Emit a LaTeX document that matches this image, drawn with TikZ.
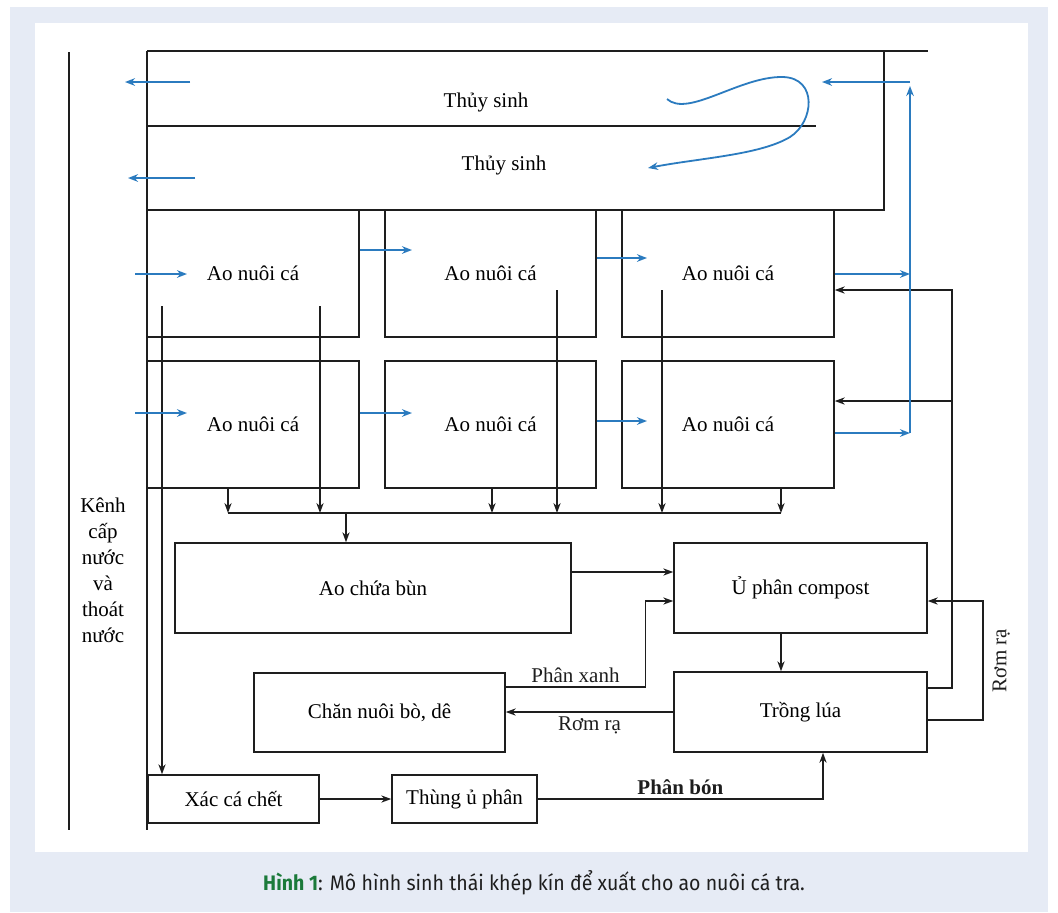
\documentclass[tikz,border=0pt]{standalone}
\usepackage{fontspec}
\setmainfont{Liberation Serif}
\newfontfamily\capfont[FakeStretch=0.93]{Fira Sans}
\usetikzlibrary{arrows.meta}
\definecolor{Dark}{HTML}{1E1E1E}
\definecolor{Flow}{HTML}{2B7BBF}
\definecolor{Back}{HTML}{E6EBF5}
\definecolor{CapGreen}{HTML}{1B7A3A}
\tikzset{
    boxnode/.style={rectangle, draw=Dark, line width=0.75pt, align=center, font=\fontsize{10.5}{13}\selectfont},
    pondnode/.style={boxnode, minimum width=106pt, minimum height=63.5pt},
    arrow/.style={-{Stealth[length=5pt,width=3.6pt]}, line width=0.65pt, color=Dark},
    flowarrow/.style={-{Stealth[length=5pt,width=3.8pt]}, line width=0.9pt, color=Flow},
    labeltext/.style={font=\fontsize{10.5}{13}\selectfont, inner sep=2pt},
}
\begin{document}
\begin{tikzpicture}[x=0.5pt, y=-0.5pt]
    % Nen
    \fill[white] (0,0) rectangle (1058,912);
    \fill[Back] (10,7) rectangle (1048,912);
    \fill[white] (35,23) rectangle (1028,852);
    \useasboundingbox (0,0) rectangle (1058,912);

    % Kenh cap nuoc va thoat nuoc
    \draw[line width=0.9pt, Dark] (69,52) -- (69,830);
    \draw[line width=0.9pt, Dark] (147,51) -- (147,830);
    \node[labeltext, align=center] (kenh) at (103,570) {Kênh\\cấp\\nước\\và\\thoát\\nước};

    % Thuy sinh
    \draw[line width=1pt, Dark] (147,51) -- (928,51);
    \draw[line width=1pt, Dark] (884,51) -- (884,210) -- (147,210);
    \draw[line width=1pt, Dark] (147,126) -- (816,126);
    \node[labeltext] (ts1) at (486,102) {Thủy sinh};
    \node[labeltext] (ts2) at (504,165) {Thủy sinh};

    % Ao nuoi ca
    \node[pondnode] (ao11) at (253,273.5) {Ao nuôi cá};
    \node[pondnode, minimum width=105.5pt] (ao12) at (490.5,273.5) {Ao nuôi cá};
    \node[pondnode] (ao13) at (728,273.5) {Ao nuôi cá};
    \node[pondnode] (ao21) at (253,424.5) {Ao nuôi cá};
    \node[pondnode, minimum width=105.5pt] (ao22) at (490.5,424.5) {Ao nuôi cá};
    \node[pondnode] (ao23) at (728,424.5) {Ao nuôi cá};

    % Cac khoi duoi
    \node[boxnode, minimum width=198pt, minimum height=45pt] (bun) at (373,588) {Ao chứa bùn};
    \node[boxnode, minimum width=126.5pt, minimum height=45pt] (compost) at (800.5,588) {Ủ phân compost};
    \node[boxnode, minimum width=126.5pt, minimum height=40pt] (lua) at (800.5,712) {Trồng lúa};
    \node[boxnode, minimum width=125.5pt, minimum height=39.5pt] (chan) at (379.5,712.5) {Chăn nuôi bò, dê};
    \node[boxnode, minimum width=85.5pt, minimum height=24pt] (xac) at (233.5,799) {Xác cá chết};
    \node[boxnode, minimum width=72.5pt, minimum height=24pt] (thung) at (464.5,799) {Thùng ủ phân};

    % Bun thai
    \coordinate (busL) at (228,513);
    \coordinate (busR) at (781,513);
    \coordinate (busM) at (346,513);
    \coordinate (bus2) at (492,513);
    \coordinate (d11) at (320,306);
    \coordinate (d12) at (557,290);
    \coordinate (d13) at (662,290);
    \coordinate (dxac) at (162,306);
    \draw[line width=0.65pt, Dark] (busL) -- (busR);
    \draw[arrow] (ao21.south -| busL) -- (busL);
    \draw[arrow] (d11) -- (d11 |- busL);
    \draw[arrow] (ao22.south -| bus2) -- (bus2);
    \draw[arrow] (d12) -- (d12 |- busL);
    \draw[arrow] (d13) -- (d13 |- busL);
    \draw[arrow] (ao23.south -| busR) -- (busR);
    \draw[arrow] (busM) -- (busM |- bun.north);
    \draw[arrow] (dxac) -- (dxac |- xac.north);

    % Phan, rom ra
    \draw[arrow] ([yshift=8pt]bun.east) -- ([yshift=8pt]compost.west);
    \draw[arrow] ([yshift=12.75pt]chan.east) -| node[labeltext, pos=0.25, above] {Phân xanh} ([xshift=-14pt,yshift=-6.5pt]compost.west) -- ([yshift=-6.5pt]compost.west);
    \draw[arrow] ([xshift=-9.75pt]compost.south) -- ([xshift=-9.75pt]lua.north);
    \draw[arrow] (lua.west) -- node[labeltext, below] {Rơm rạ} (lua.west -| chan.east);
    \coordinate (rr) at (983,601);
    \draw[arrow] ([yshift=-4pt]lua.east) -| node[labeltext, pos=0.75, rotate=90, anchor=north, inner sep=4.5pt] {Rơm rạ} (rr) -- (rr -| compost.east);
    \coordinate (rv1) at (952,290);
    \coordinate (rv2) at (952,401);
    \draw[arrow] ([yshift=12pt]lua.east) -| (rv1) -- (rv1 -| ao13.east);
    \draw[arrow] (rv2) -- (rv2 -| ao23.east);
    \draw[arrow] (xac.east) -- (thung.west);
    \draw[arrow] (thung.east) -| node[labeltext, pos=0.25, above, font=\fontsize{10.5}{13}\selectfont\bfseries] {Phân bón} ([xshift=11.25pt]lua.south);

    % Dong nuoc
    \coordinate (out1) at (125,82);
    \coordinate (out2) at (128,178);
    \draw[flowarrow] ([xshift=32.5pt]out1) -- (out1);
    \draw[flowarrow] ([xshift=33.5pt]out2) -- (out2);
    \coordinate (in1) at (187,274);
    \coordinate (in2) at (187,413);
    \draw[flowarrow] ([xshift=-26pt]in1) -- (in1);
    \draw[flowarrow] ([xshift=-26pt]in2) -- (in2);
    \coordinate (f12) at (412,250);
    \coordinate (f23) at (647,258);
    \coordinate (g12) at (412,413);
    \coordinate (g23) at (647,421);
    \draw[flowarrow] (f12 -| ao11.east) -- (f12);
    \draw[flowarrow] (f23 -| ao12.east) -- (f23);
    \draw[flowarrow] (g12 -| ao21.east) -- (g12);
    \draw[flowarrow] (g23 -| ao22.east) -- (g23);
    \coordinate (bv1) at (910,274);
    \coordinate (bv2) at (910,433);
    \coordinate (bt) at (910,82);
    \coordinate (ti) at (822,82);
    \draw[flowarrow] (bv1 -| ao13.east) -- (bv1);
    \draw[flowarrow] ([yshift=-4.25pt]ao23.east) -- (bv2);
    \draw[flowarrow] (bv2) -- ([yshift=-2pt]bt);
    \draw[flowarrow] (bt) -- (ti);
    \draw[flowarrow] (667,99) .. controls (688,118) and (740,76) .. (783,77) .. controls (818,78) and (814,122) .. (790,137) .. controls (760,155) and (700,158) .. (648,168);

    % Chu thich
    \node[font=\capfont\fontsize{10.5}{12}\selectfont, text=Dark] (caption) at (534,883) {{\color{CapGreen}\bfseries Hình 1}: Mô hình sinh thái khép kín để xuất cho ao nuôi cá tra.};
\end{tikzpicture}
\end{document}
